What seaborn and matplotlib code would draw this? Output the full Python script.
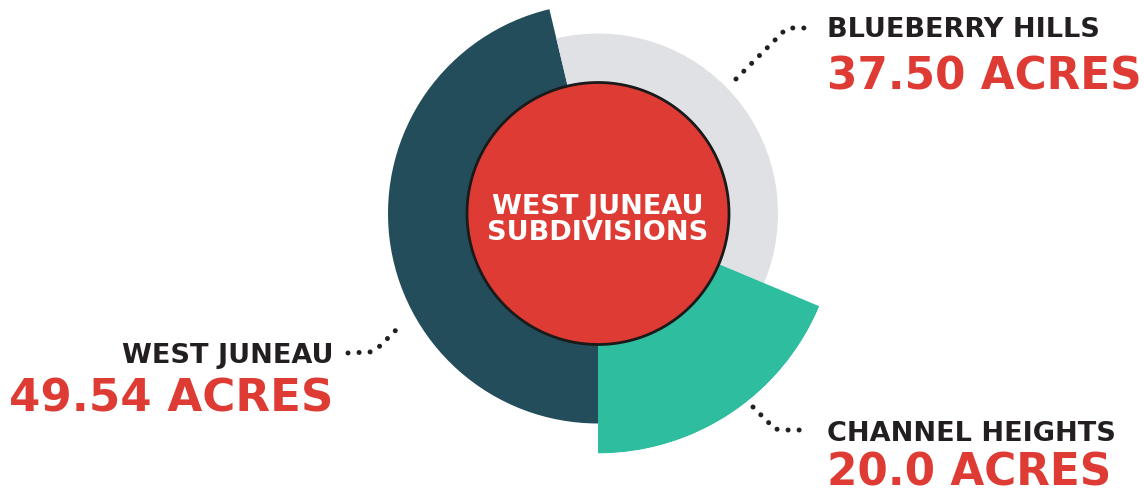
import numpy as np
import matplotlib
matplotlib.use("Agg")
import matplotlib.pyplot as plt
import seaborn as sns

# ---- data ----
names = ["WEST JUNEAU", "BLUEBERRY HILLS", "CHANNEL HEIGHTS"]
acres = [49.54, 37.50, 20.0]
acre_labels = ["49.54 ACRES", "37.50 ACRES", "20.0 ACRES"]
center_title = ["WEST JUNEAU", "SUBDIVISIONS"]

# ---- style ----
colors = ["#234D5A", "#E0E1E5", "#2EBD9E"]
outer_r = [210, 180, 240]
inner_r = 131
red = "#DD3B33"
dark = "#231F20"

sns.set_theme(style="white")
plt.rcParams["font.family"] = ["DejaVu Sans"]

W, H = 1144, 496
fig = plt.figure(figsize=(W / 100, H / 100), dpi=100)
fig.patch.set_facecolor("white")

cx, cy, R = 598, 213.5, 240
ax = fig.add_axes([(cx - R) / W, (H - cy - R) / H, 2 * R / W, 2 * R / H], projection="polar")
ax.set_theta_zero_location("N")
ax.set_theta_direction(-1)
ax.set_ylim(0, R)
ax.set_axis_off()
ax.patch.set_alpha(0)

vals = np.array(acres)
widths = vals / vals.sum() * 2 * np.pi
starts = np.pi + np.concatenate([[0], np.cumsum(widths)[:-1]])
ax.bar(starts + widths / 2, outer_r, width=widths, bottom=0, color=colors,
       edgecolor="none", linewidth=0, align="center")

th = np.linspace(0, 2 * np.pi, 400)
ax.fill(th, np.full_like(th, inner_r), facecolor=red, edgecolor="#1a1a1a", linewidth=2.0, zorder=5)

# overlay axis in pixel coordinates for annotations
ov = fig.add_axes([0, 0, 1, 1])
ov.set_xlim(0, W)
ov.set_ylim(H, 0)
ov.set_axis_off()
ov.patch.set_alpha(0)

ov.text(cx, 214, center_title[0], color="white", fontsize=19.5, fontweight="bold",
        ha="center", va="baseline")
ov.text(cx, 240, center_title[1], color="white", fontsize=19.5, fontweight="bold",
        ha="center", va="baseline")

lab_fs = 19.5
num_fs = 31.5
# West Juneau (left, right-aligned)
ov.text(333, 363, names[0], color=dark, fontsize=lab_fs, fontweight="bold", ha="right", va="baseline")
ov.text(333, 412, acre_labels[0], color=red, fontsize=num_fs + 1, fontweight="bold", ha="right", va="baseline")
# Blueberry Hills
ov.text(827, 37, names[1], color=dark, fontsize=lab_fs, fontweight="bold", ha="left", va="baseline")
ov.text(827, 89, acre_labels[1], color=red, fontsize=num_fs, fontweight="bold", ha="left", va="baseline")
# Channel Heights
ov.text(827, 441, names[2], color=dark, fontsize=lab_fs, fontweight="bold", ha="left", va="baseline")
ov.text(827, 486, acre_labels[2], color=red, fontsize=num_fs, fontweight="bold", ha="left", va="baseline")

# dotted leaders
dot_kw = dict(color=dark, linewidth=3.6, linestyle=(0, (0.01, 2.2)), dash_capstyle="round")
ov.plot([736, 785, 792, 810], [79, 30, 28, 28], **dot_kw)
ov.plot([348, 370, 380, 403], [353, 352, 346, 323], **dot_kw)
ov.plot([753, 775, 785, 810], [407, 429, 430, 430], **dot_kw)

fig.savefig("out.png", dpi=100, facecolor="white")
